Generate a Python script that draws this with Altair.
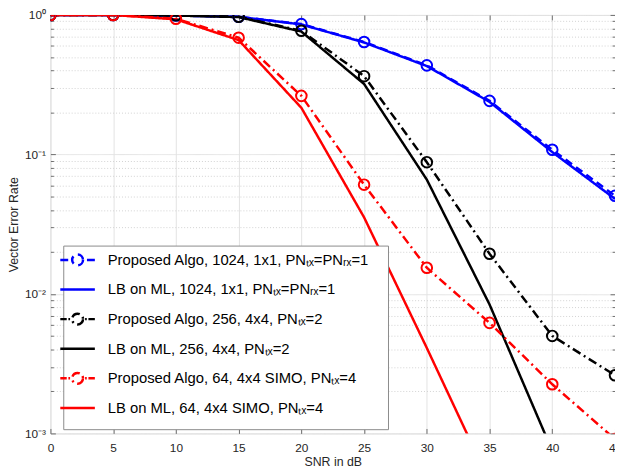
import altair as alt
import pandas as pd

# ---------------- data ----------------
snr = [0, 5, 10, 15, 20, 25, 30, 35, 40, 45]

series_names = [
    "Proposed Algo, 1024, 1x1, PNₜₓ=PNᵣₓ=1",
    "LB on ML, 1024, 1x1, PNₜₓ=PNᵣₓ=1",
    "Proposed Algo, 256, 4x4, PNₜₓ=2",
    "LB on ML, 256, 4x4, PNₜₓ=2",
    "Proposed Algo, 64, 4x4 SIMO, PNₜₓ=4",
    "LB on ML, 64, 4x4 SIMO, PNₜₓ=4",
]
blue_proposed = [1.0, 1.0, 0.99, 0.97, 0.86, 0.64, 0.435, 0.242, 0.108, 0.0505]
blue_lb = [1.0, 1.0, 0.99, 0.97, 0.855, 0.635, 0.43, 0.238, 0.104, 0.048]
black_proposed = [1.0, 1.0, 0.995, 0.97, 0.77, 0.364, 0.088, 0.0194, 0.0050, 0.00261]
black_lb = [1.0, 1.0, 0.99, 0.965, 0.76, 0.32, 0.066, 0.0084, 0.00075]
red_proposed = [1.0, 1.0, 0.94, 0.687, 0.263, 0.0607, 0.0154, 0.0062, 0.00225, 0.00091]
red_lb = [1.0, 1.0, 0.93, 0.66, 0.216, 0.0354, 0.0041, 0.00045]

series_values = [blue_proposed, blue_lb, black_proposed, black_lb, red_proposed, red_lb]
series_markers = [True, False, True, False, True, False]

# ---------------- styles ----------------
series_colors = ["#0000ff", "#0000ff", "#000000", "#000000", "#ff0000", "#ff0000"]
series_dash = [[8, 5], [1, 0], [9, 4, 2, 4], [1, 0], [9, 4, 2, 4], [1, 0]]

rows = []
for i, (name, vals, mk) in enumerate(zip(series_names, series_values, series_markers)):
    for x, v in zip(snr, vals):
        rows.append({"snr": x, "ver": v, "series": name, "idx": i, "marker": mk})
df = pd.DataFrame(rows)

W, H = 572, 424
FONT = "Liberation Sans"
TXT = "#262626"
LINE = "#6e6e6e"

xs = alt.Scale(domain=[0, 45], nice=False, zero=False)
ys = alt.Scale(type="log", domain=[0.001, 1], nice=False)
cs = alt.Scale(domain=series_names, range=series_colors)
ds = alt.Scale(domain=series_names, range=series_dash)

y_values = [m * 10 ** e for e in (-3, -2, -1) for m in range(1, 10)] + [1]
DEC = "abs(log(datum.value)/LN10 - round(log(datum.value)/LN10)) < 1e-6"
y_label_expr = (
    f"({DEC}) ? ['10⁻³','10⁻²','10⁻¹','10⁰'][round(log(datum.value)/LN10)+3] : ''"
)

# legend symbol paths: symbol size 400 -> 1 unit = 10 px
UNIT = 10.0


def u(v):
    return f"{v / UNIT:.4f}"


def seg(a, b):
    return f"M{u(a)},0L{u(b)},0"


def circ(r):
    return (f"M{u(r)},0A{u(r)},{u(r)} 0 1,1 {u(-r)},0"
            f"A{u(r)},{u(r)} 0 1,1 {u(r)},0")


# invisible move-to points set the size of each legend entry (box width / row pitch)
ext = f"M{u(-17.5)},{u(-5)}M{u(-17.5)},{u(12.6)}M{u(306)},0"
p_dashed = ext + seg(-17.5, -9.5) + circ(5.5) + seg(9.5, 17.5)
p_dashdot = ext + seg(-17.5, -11) + seg(-9.3, -7.6) + circ(5.5) + seg(7.6, 9.3) + seg(11, 17.5)
p_solid = ext + seg(-17.5, 17.5)
shape_range = [p_dashed, p_solid, p_dashdot, p_solid, p_dashdot, p_solid]
ss = alt.Scale(domain=series_names, range=shape_range)

# ---------------- axes ----------------
x_main = alt.Axis(
    orient="bottom", values=snr, title="SNR in dB", grid=True, gridColor="#e3e3e3",
    ticks=False, domain=False, labelFont=FONT, labelFontSize=12, labelColor=TXT,
    labelPadding=9, labelFlush=False, labelOverlap=False, titleFont=FONT,
    titleFontSize=12.5, titleFontWeight="normal", titleColor=TXT, titlePadding=2,
)
y_main = alt.Axis(
    orient="left", values=y_values, labelExpr=y_label_expr, title="Vector Error Rate",
    grid=True,
    gridColor={"condition": {"test": DEC, "value": "#e3e3e3"}, "value": "#d2d2d2"},
    gridDash={"condition": {"test": DEC, "value": [1, 0]}, "value": [1, 2]},
    ticks=False, domain=False, labelFont=FONT, labelFontSize=12, labelColor=TXT,
    labelPadding=5, labelOverlap=False, titleFont=FONT, titleFontSize=12.5,
    titleFontWeight="normal", titleColor=TXT, titlePadding=4,
)


def tick_x(orient):
    return alt.Axis(orient=orient, offset=-H, values=snr, labels=False, domain=False,
                    grid=False, ticks=True, tickSize=5, tickColor=LINE, tickWidth=1,
                    title=None)


def tick_y(orient):
    return alt.Axis(orient=orient, offset=-W, values=y_values, labels=False, domain=False,
                    grid=False, ticks=True,
                    tickSize={"condition": {"test": DEC, "value": 5}, "value": 3},
                    tickColor=LINE, tickWidth=1, title=None)


legend_kw = dict(
    title=None, orient="none", legendX=13, legendY=233.7, padding=3,
    strokeColor="#8a8a8a", fillColor="white", labelFont=FONT, labelFontSize=15,
    labelColor="#000000", labelOffset=19, symbolOffset=0, labelLimit=500,
    rowPadding=0, symbolSize=400, symbolStrokeWidth=2.5, symbolFillColor="transparent",
)

base = alt.Chart(df)

legend_layer = base.transform_filter("false").mark_point(
    filled=False, size=400, strokeWidth=2.5, opacity=1
).encode(
    x=alt.X("snr:Q", scale=xs, axis=tick_x("bottom")),
    y=alt.Y("ver:Q", scale=ys, axis=tick_y("left")),
    color=alt.Color("series:N", scale=cs, legend=alt.Legend(**legend_kw)),
    shape=alt.Shape("series:N", scale=ss, legend=alt.Legend(**legend_kw)),
)

lines = base.mark_line(clip=True, strokeWidth=2.5).encode(
    x=alt.X("snr:Q", scale=xs, axis=x_main),
    y=alt.Y("ver:Q", scale=ys, axis=y_main),
    color=alt.Color("series:N", scale=cs, legend=None),
    strokeDash=alt.StrokeDash("series:N", scale=ds, legend=None),
    detail="idx:O",
)

points = base.transform_filter("datum.marker").mark_point(
    shape="circle", filled=False, size=115, strokeWidth=2, opacity=1, clip=True
).encode(
    x=alt.X("snr:Q", scale=xs, axis=tick_x("top")),
    y=alt.Y("ver:Q", scale=ys, axis=tick_y("right")),
    color=alt.Color("series:N", scale=cs, legend=None),
)

chart = (
    alt.layer(legend_layer, lines, points)
    .resolve_axis(x="independent", y="independent")
    .properties(
        width=W, height=H,
        autosize=alt.AutoSizeParams(type="none"),
        padding={"left": 43, "top": 4, "right": 0, "bottom": 32},
    )
    .configure_view(stroke=LINE, strokeWidth=1)
    .configure(font=FONT)
)

chart.save("out.html", embed_options={"renderer": "svg", "actions": False})
